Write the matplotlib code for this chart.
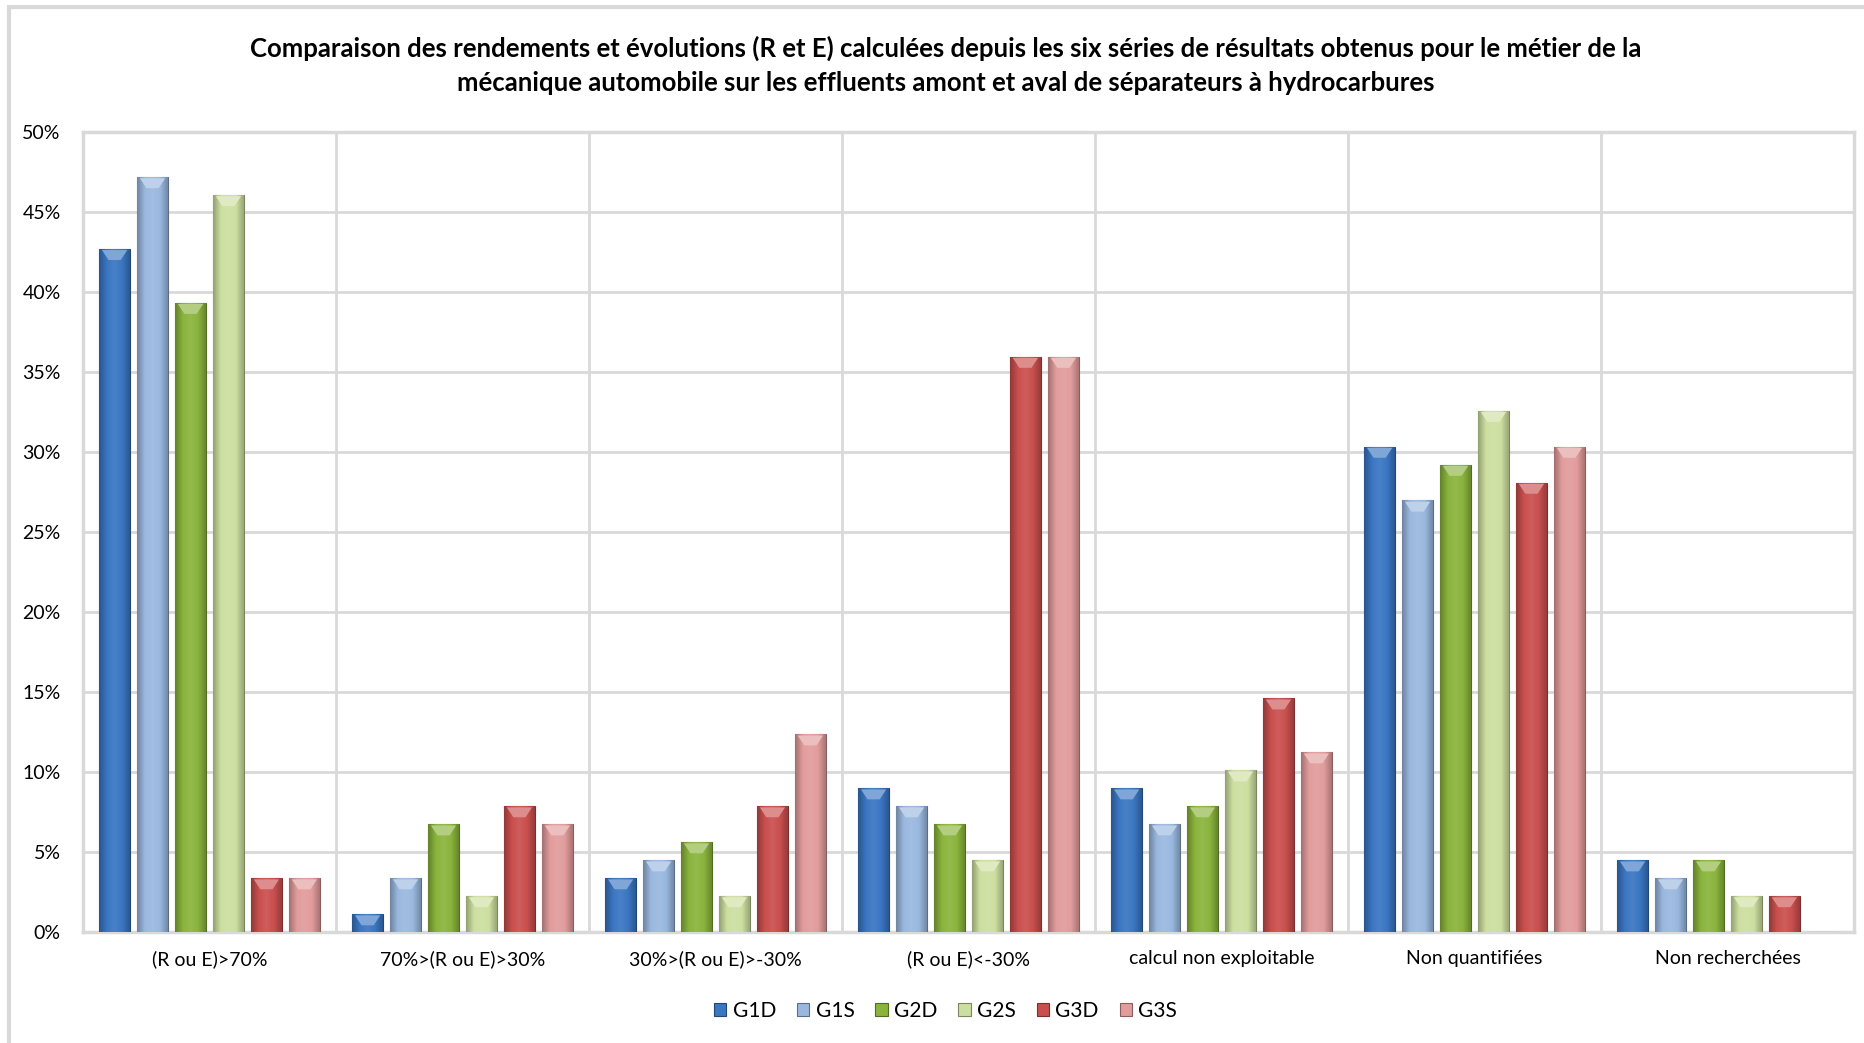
import numpy as np
import matplotlib.pyplot as plt
from matplotlib.colors import LinearSegmentedColormap, to_rgb
from matplotlib.patches import Rectangle

# categories and series values (percent)
categories = ['(R ou E)>70%', '70%>(R ou E)>30%', '30%>(R ou E)>-30%', '(R ou E)<-30%',
              'calcul non exploitable', 'Non quantifiées', 'Non recherchées']
series = ['G1D', 'G1S', 'G2D', 'G2S', 'G3D', 'G3S']
g1d = [42.70, 1.12, 3.37, 8.99, 8.99, 30.34, 4.49]
g1s = [47.19, 3.37, 4.49, 7.87, 6.74, 26.97, 3.37]
g2d = [39.33, 6.74, 5.62, 6.74, 7.87, 29.21, 4.49]
g2s = [46.07, 2.25, 2.25, 4.49, 10.11, 32.58, 2.25]
g3d = [3.37, 7.87, 7.87, 35.96, 14.61, 28.09, 2.25]
g3s = [3.37, 6.74, 12.36, 35.96, 11.24, 30.34, 0.0]
values = [g1d, g1s, g2d, g2s, g3d, g3s]
colors = ['#3a76c2', '#9ab8df', '#8ab43c', '#cddfa0', '#c94f4e', '#e29c9c']

plt.rcParams['font.family'] = ['Lato', 'DejaVu Sans']

fig = plt.figure(figsize=(18.65, 10.43), dpi=100)
ax = fig.add_axes([83/1865, 1-932/1043, (1854-83)/1865, (932-132)/1043])

def shade(c, f):
  r = np.array(to_rgb(c))
  if f < 1:
    return tuple(r*f)
  return tuple(r + (1-r)*(f-1))

slot = 0.15
bw = 0.12
x = np.arange(len(categories))
for k, (vals, col) in enumerate(zip(values, colors)):
  cmap = LinearSegmentedColormap.from_list('b%d' % k,
      [shade(col, 0.72), shade(col, 1.0), shade(col, 1.08), shade(col, 1.0), shade(col, 0.75)])
  grad = np.linspace(0, 1, 64).reshape(1, -1)
  pos = x + 0.5 - 3*slot + (k + 0.5)*slot
  bars = ax.bar(pos, vals, width=bw, color=col, edgecolor=shade(col, 0.6),
                linewidth=0.8, label=series[k], zorder=3)
  for b in bars:
    h = b.get_height()
    if h <= 0:
      continue
    x0 = b.get_x()
    im = ax.imshow(grad, extent=[x0, x0+bw, 0, h], aspect='auto', cmap=cmap,
                   zorder=3.5, interpolation='bicubic')
    im.set_clip_path(b)
    # small bevel highlight on top
    ax.fill([x0+0.01, x0+bw-0.01, x0+bw*0.7, x0+bw*0.3],
            [h-0.08, h-0.08, h-0.7, h-0.7], color=shade(col, 1.35), zorder=4, lw=0)

ax.set_xlim(0, len(categories))
ax.set_ylim(0, 50)
ax.set_yticks(np.arange(0, 51, 5))
ax.set_yticklabels(['%d%%' % v for v in range(0, 51, 5)], fontsize=14)
ax.set_xticks(x + 0.5)
ax.set_xticklabels(categories, fontsize=14)
ax.tick_params(axis='x', length=0, pad=13)
ax.tick_params(axis='y', length=0, pad=16)
ax.set_xticks(np.arange(1, len(categories)), minor=True)
ax.tick_params(which='minor', length=0)
ax.grid(axis='y', color='#d9d9d9', lw=2, zorder=0)
ax.grid(axis='x', which='minor', color='#d9d9d9', lw=2, zorder=0)
for s in ax.spines.values():
  s.set_color('#d9d9d9')
  s.set_linewidth(2.5)

fig.text(0.507, 0.966, 'Comparaison des rendements et évolutions (R et E) calculées depuis les six séries de résultats obtenus pour le métier de la\nmécanique automobile sur les effluents amont et aval de séparateurs à hydrocarbures',
         ha='center', va='top', fontsize=18.5, fontweight='bold', linespacing=1.5)

leg = fig.legend(loc='center', bbox_to_anchor=(0.507, 0.031), ncol=6, frameon=False,
                 fontsize=15, handlelength=0.6, handleheight=0.6, handletextpad=0.3,
                 columnspacing=1.0)

# outer chart frame
fig.patches.append(Rectangle((9/1865, -0.1), 1.2, 1.1 - 7/1043, transform=fig.transFigure,
                             fill=False, edgecolor='#d9d9d9', lw=3))

fig.savefig('out.png', dpi=100)
